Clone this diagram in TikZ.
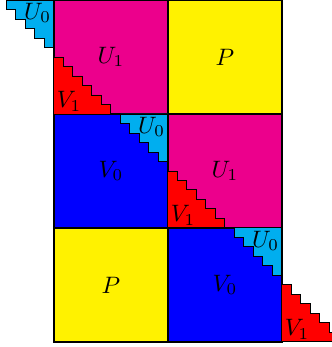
\documentclass[tikz,border=0pt]{standalone}
\usepackage{xcolor}
\usepackage{tikz}
\usetikzlibrary{positioning}
\definecolor{ucyan}{RGB}{0,174,239}
\definecolor{umag}{RGB}{236,0,140}
\definecolor{pyel}{RGB}{255,242,0}
\definecolor{vblue}{RGB}{0,0,255}
\definecolor{vred}{RGB}{255,0,0}
\tikzstyle{block} = [rectangle, draw, minimum size=48pt, inner sep=0pt, outer sep=0pt, line width=0.5pt]
\tikzstyle{stair} = [draw, line width=0.4pt]
\tikzstyle{tag}   = [inner sep=1pt]
% staircase corners: U0 hangs from a top right corner, V1 sits on a bottom left corner
\newcommand{\ustair}[1]{\draw [stair, fill=ucyan] (#1) -- ++(-5,0) \foreach \i in {1,...,5} {-- ++(0,-1) -- ++(1,0)} -- cycle;}
\newcommand{\vstair}[1]{\draw [stair, fill=vred] (#1) -- ++(0,6) \foreach \i in {1,...,6} {-- ++(1,0) -- ++(0,-1)} -- cycle;}

\begin{document}
\begin{tikzpicture}[x=4pt, y=4pt]
    \clip (-5.68,-0.53) rectangle (29.26,36);

    \node (b11) at (6,30)  [block, fill=umag]  {$U_1$};
    \node (b12) at (18,30) [block, fill=pyel]  {$P$};
    \node (b21) at (6,18)  [block, fill=vblue] {$V_0$};
    \node (b22) at (18,18) [block, fill=umag]  {$U_1$};
    \node (b31) at (6,6)   [block, fill=pyel]  {$P$};
    \node (b32) at (18,6)  [block, fill=vblue] {$V_0$};

    \ustair{b11.north west}
    \ustair{b21.north east}
    \ustair{b32.north east}
    \vstair{b11.south west}
    \vstair{b22.south west}
    \vstair{b32.south east}

    \node (u0a) [tag, anchor=north east] at (b11.north west) {$U_0$};
    \node (u0b) [tag, anchor=north east] at (b21.north east) {$U_0$};
    \node (u0c) [tag, anchor=north east] at (b32.north east) {$U_0$};
    \node (v1a) [tag, anchor=south west] at (b11.south west) {$V_1$};
    \node (v1b) [tag, anchor=south west] at (b22.south west) {$V_1$};
    \node (v1c) [tag, anchor=south west] at (b32.south east) {$V_1$};
\end{tikzpicture}
\end{document}
